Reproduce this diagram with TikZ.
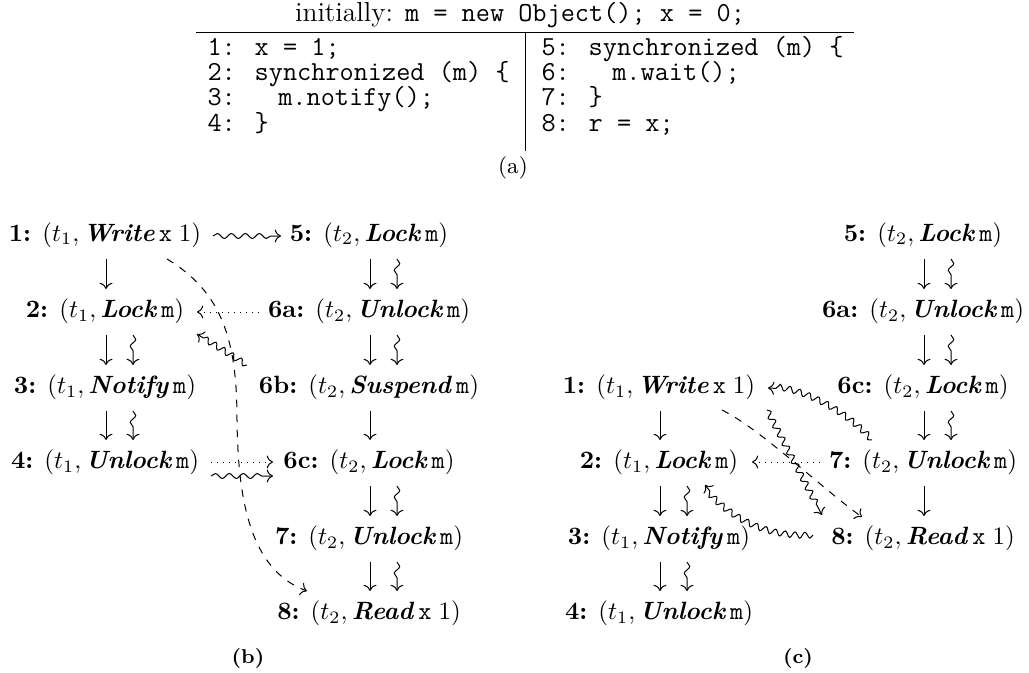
\documentclass[tikz,border=0pt]{standalone}
\usetikzlibrary{arrows.meta,decorations.pathmorphing,calc}
\newcommand{\evt}[4]{\textbf{#1:} $(t_{#2},\textbf{\textit{#3}}\,#4)$}
\newcommand{\evdown}[3]{\draw[arr] ($(#1)+(#3,24)$) -- ($(#2)+(#3,-22)$);}
\newcommand{\evsq}[3]{\draw[vsq] ($(#1)+(#3,24)$) -- ($(#2)+(#3,-22)$);}
\begin{document}
\begin{tikzpicture}[x=0.4pt,y=-0.4pt,
 every node/.style={inner sep=0pt},
 ev/.style={text height=7.5pt,text depth=2.5pt,font=\fontsize{10}{12}\selectfont},
 code/.style={anchor=base west,font=\ttfamily\fontsize{11}{12}\selectfont},
 subcap/.style={font=\fontsize{8}{9}\selectfont},
 arr/.style={-{Computer Modern Rightarrow}, line width=0.4pt},
 dotarr/.style={arr, dotted},
 dasharr/.style={arr, dashed},
 wavy/.style={arr, decorate, decoration={snake, segment length=4pt, amplitude=1.2pt, post length=3pt}},
 wavyh/.style={arr, decorate, decoration={snake, segment length=5.6pt, amplitude=1pt, post length=3pt}},
 vsq/.style={arr, decorate, decoration={snake, segment length=5.6pt, amplitude=1.1pt, post length=5pt}},
]
\useasboundingbox (0,0) rectangle (1029,673);
% ---------- (a) program ----------
\node[anchor=base, font=\fontsize{11}{12}\selectfont] (title) at (520,22) {initially: \texttt{m = new Object(); x = 0;}};
\draw (196,32) -- (854,32);
\draw (525,32) -- (525,151);
\node[code] (l1) at (207,55) {1: x = 1;};
\node[code] (l2) at (207,80.5) {2: synchronized (m) \{};
\node[code] (l3) at (207,106) {3:\ \ \ m.notify();};
\node[code] (l4) at (207,131.5) {4: \}};
\node[code] (r1) at (541,55) {5: synchronized (m) \{};
\node[code] (r2) at (541,80.5) {6:\ \ \ m.wait();};
\node[code] (r3) at (541,106) {7: \}};
\node[code] (r4) at (541,131.5) {8: r = x;};
\node[font=\fontsize{9}{10}\selectfont] (capa) at (513,168) {(a)};
% ---------- (b) ----------
\node[ev] (b1) at (105,235) {\evt{1}{1}{Write}{\texttt{x}\;1}};
\node[ev] (b2) at (105,311) {\evt{2}{1}{Lock}{\texttt{m}}};
\node[ev] (b3) at (105,387) {\evt{3}{1}{Notify}{\texttt{m}}};
\node[ev] (b4) at (105,462) {\evt{4}{1}{Unlock}{\texttt{m}}};
\node[ev] (b5) at (369,235) {\evt{5}{2}{Lock}{\texttt{m}}};
\node[ev] (b6a) at (369,311) {\evt{6a}{2}{Unlock}{\texttt{m}}};
\node[ev] (b6b) at (369,387) {\evt{6b}{2}{Suspend}{\texttt{m}}};
\node[ev] (b6c) at (369,462) {\evt{6c}{2}{Lock}{\texttt{m}}};
\node[ev] (b7) at (369,538) {\evt{7}{2}{Unlock}{\texttt{m}}};
\node[ev] (b8) at (369,613) {\evt{8}{2}{Read}{\texttt{x}\;1}};
\evdown{b1}{b2}{1}
\evdown{b2}{b3}{1} \evsq{b2}{b3}{28}
\evdown{b3}{b4}{1} \evsq{b3}{b4}{28}
\evdown{b5}{b6a}{1} \evsq{b5}{b6a}{28}
\evdown{b6a}{b6b}{1} \evsq{b6a}{b6b}{28}
\evdown{b6b}{b6c}{1}
\evdown{b6c}{b7}{1} \evsq{b6c}{b7}{28}
\evdown{b7}{b8}{1} \evsq{b7}{b8}{28}
\draw[wavyh] ($(b1)+(108,1)$) -- ($(b5)+(-88,1)$);
\draw[dotarr] ($(b6a)+(-110,1)$) -- ($(b2)+(92,1)$);
\draw[wavy] ($(b6b)+(-122,-22)$) -- ($(b2)+(92,23)$);
\draw[dotarr] ($(b4)+(106,0)$) -- ($(b6c)+(-96,0)$);
\draw[wavyh] ($(b4)+(106,14)$) -- ($(b6c)+(-96,14)$);
\draw[dasharr] ($(b1)+(62,24)$) .. controls (222,292) and (237,340) .. (237,420)
   .. controls (238,500) and (250,570) .. ($(b8)+(-62,-22)$);
\node[subcap, font=\bfseries\fontsize{8}{9}\selectfont] (capb) at (248,658) {(b)};
% ---------- (c) ----------
\node[ev] (c5) at (923,235) {\evt{5}{2}{Lock}{\texttt{m}}};
\node[ev] (c6a) at (923,311) {\evt{6a}{2}{Unlock}{\texttt{m}}};
\node[ev] (c6c) at (923,387) {\evt{6c}{2}{Lock}{\texttt{m}}};
\node[ev] (c7) at (923,462) {\evt{7}{2}{Unlock}{\texttt{m}}};
\node[ev] (c8) at (923,538) {\evt{8}{2}{Read}{\texttt{x}\;1}};
\node[ev] (c1) at (659,387) {\evt{1}{1}{Write}{\texttt{x}\;1}};
\node[ev] (c2) at (659,462) {\evt{2}{1}{Lock}{\texttt{m}}};
\node[ev] (c3) at (659,538) {\evt{3}{1}{Notify}{\texttt{m}}};
\node[ev] (c4) at (659,613) {\evt{4}{1}{Unlock}{\texttt{m}}};
\evdown{c5}{c6a}{1} \evsq{c5}{c6a}{28}
\evdown{c6a}{c6c}{1} \evsq{c6a}{c6c}{28}
\evdown{c6c}{c7}{1} \evsq{c6c}{c7}{28}
\evdown{c7}{c8}{1}
\evdown{c1}{c2}{1}
\evdown{c2}{c3}{1} \evsq{c2}{c3}{28}
\evdown{c3}{c4}{1} \evsq{c3}{c4}{28}
\draw[dotarr] ($(c7)+(-103,0)$) -- ($(c2)+(93,0)$);
\draw[wavy] ($(c7)+(-51,-22)$) .. controls (847,412) and (802,388) .. ($(c1)+(109,1)$);
\draw[wavy] ($(c1)+(108,23)$) -- ($(c8)+(-101,-23)$);
\draw[dasharr] ($(c1)+(63,23)$) .. controls (762,430) and (820,487) .. ($(c8)+(-61,-21)$);
\draw[wavy] ($(c8)+(-110,-3)$) .. controls (765,537) and (728,515) .. ($(c2)+(46,23)$);
\node[subcap, font=\bfseries\fontsize{8}{9}\selectfont] (capc) at (798,658) {(c)};
\end{tikzpicture}
\end{document}
